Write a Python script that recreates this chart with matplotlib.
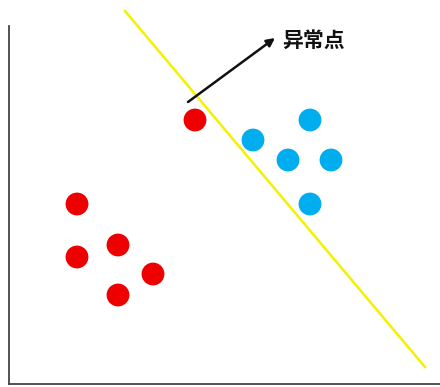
import matplotlib
matplotlib.use("Agg")
import matplotlib.pyplot as plt

plt.rcParams['font.family'] = ['Noto Sans CJK SC', 'DejaVu Sans']

red_x = [186, 68, 109, 68, 144, 109]
red_y = [264, 180, 139, 127, 110, 89]
blue_x = [301, 244, 279, 322, 301]
blue_y = [264, 244, 224, 224, 180]
line_x = [116, 416]
line_y = [373, 17]
arrow_start = (179, 282)
arrow_end = (266, 346)
label = "异常点"

W, H = 440, 387
fig = plt.figure(figsize=(W / 100, H / 100), dpi=100)
ax = fig.add_axes([9 / W, 3 / H, 431 / W, 358 / H])
ax.set_xlim(0, 431)
ax.set_ylim(0, 358)

ax.plot(line_x, line_y, color='#F5F000', lw=1.8, clip_on=False, zorder=2)
ax.scatter(red_x, red_y, s=270, color='#EE0000', edgecolors='none', zorder=3)
ax.scatter(blue_x, blue_y, s=270, color='#00AEEF', edgecolors='none', zorder=3)
ax.annotate('', xy=arrow_end, xytext=arrow_start,
            arrowprops=dict(arrowstyle='-|>', color='#111111', lw=1.8,
                            mutation_scale=12, shrinkA=0, shrinkB=0),
            annotation_clip=False, zorder=4)
ax.text(273, 344, label, fontsize=15, fontweight='bold', color='#111111',
        ha='left', va='center', clip_on=False)

for s in ['top', 'right']:
    ax.spines[s].set_visible(False)
for s in ['left', 'bottom']:
    ax.spines[s].set_color('#444444')
    ax.spines[s].set_linewidth(1.3)
ax.set_xticks([])
ax.set_yticks([])

fig.savefig('out.png', dpi=100)
